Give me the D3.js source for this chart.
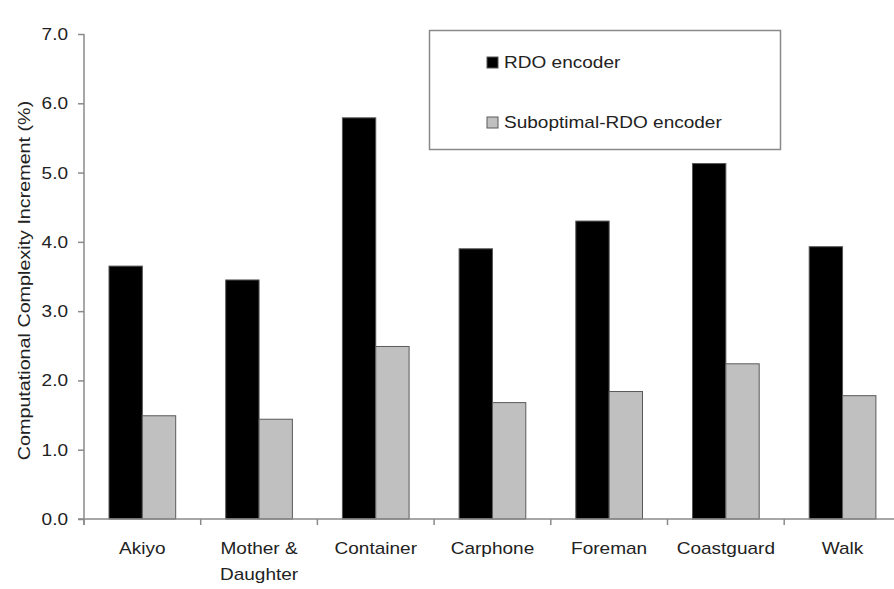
<!DOCTYPE html>
<html>
<head>
<meta charset="utf-8">
<script src="https://cdn.jsdelivr.net/npm/d3@7"></script>
<style>
  body { margin: 0; background: #fff; }
  svg { display: block; font-family: "Liberation Sans", Arial, sans-serif; }
  /* le texte de la figure d'origine est un peu étiré horizontalement */
  .wide { transform-box: fill-box; transform: scaleX(1.12); }
  .wide-end { transform-origin: right center; }
  .wide-mid { transform-origin: center center; }
  .wide-start { transform-origin: left center; }
  .title-wide { transform-box: fill-box; transform: scaleX(1.16); transform-origin: center center; }
</style>
</head>
<body>
<div id="chart"></div>
<script>
// --- Données ---
const categories = ["Akiyo", "Mother & Daughter", "Container", "Carphone", "Foreman", "Coastguard", "Walk"];
const categoryLines = [["Akiyo"], ["Mother &", "Daughter"], ["Container"], ["Carphone"], ["Foreman"], ["Coastguard"], ["Walk"]];
const seriesNames = ["RDO encoder", "Suboptimal-RDO encoder"];
const rdoValues = [3.65, 3.45, 5.79, 3.90, 4.30, 5.13, 3.93];
const subValues = [1.49, 1.44, 2.49, 1.68, 1.84, 2.24, 1.78];
const yTicks = [0, 1, 2, 3, 4, 5, 6, 7];

// --- Configuration ---
const W = 894, H = 589;
const x0 = 84, y0 = 519, yTop = 34;
const bandW = 116.7;

const colors = ["#000000", "#c0c0c0"];
const strokes = ["#555555", "#5a5a5a"];
const axisColor = "#8a8a8a";
const textColor = "#222";

const svg = d3.select("#chart").append("svg")
  .attr("width", W).attr("height", H);

const x = d3.scaleBand()
  .domain(categories)
  .range([x0, x0 + bandW * categories.length])
  .paddingInner(0).paddingOuter(0);

const xSub = d3.scaleBand()
  .domain(seriesNames)
  .range([0, bandW])
  .paddingInner(0)
  .paddingOuter(0.75);

const y = d3.scaleLinear().domain([0, 7]).range([y0, yTop]);

const data = categories.map((c, i) => ({ cat: c, vals: [rdoValues[i], subValues[i]] }));

// Barres
const groups = svg.selectAll(".grp")
  .data(data)
  .join("g")
  .attr("class", "grp")
  .attr("transform", d => `translate(${x(d.cat)},0)`);

groups.selectAll("rect")
  .data(d => d.vals.map((v, k) => ({ key: seriesNames[k], v, k })))
  .join("rect")
  .attr("x", d => xSub(d.key))
  .attr("y", d => y(d.v))
  .attr("width", xSub.bandwidth())
  .attr("height", d => y0 - y(d.v))
  .attr("fill", d => colors[d.k])
  .attr("stroke", d => strokes[d.k])
  .attr("stroke-width", 1);

// Axe Y
const yAxis = svg.append("g")
  .attr("transform", `translate(${x0},0)`)
  .call(d3.axisLeft(y).tickValues(yTicks).tickFormat(d3.format(".1f")).tickSize(6).tickPadding(10));
yAxis.select(".domain").attr("stroke", axisColor).attr("stroke-width", 1.5)
  .attr("d", `M0,${yTop}V${y0 + 6}`);
yAxis.selectAll(".tick line").attr("stroke", axisColor).attr("stroke-width", 1.5);
yAxis.selectAll(".tick text")
  .attr("class", "wide wide-end")
  .attr("fill", textColor)
  .style("font-size", "17px")
  .style("font-family", "'Liberation Sans', Arial, sans-serif");

// Axe X (ticks aux limites des catégories)
const xAxisG = svg.append("g").attr("transform", `translate(0,${y0})`);
xAxisG.append("line")
  .attr("x1", x0 - 6).attr("x2", W)
  .attr("stroke", axisColor).attr("stroke-width", 1.5);
xAxisG.selectAll(".xt")
  .data(categories)
  .join("line")
  .attr("class", "xt")
  .attr("x1", d => x(d)).attr("x2", d => x(d))
  .attr("y1", 0).attr("y2", 6)
  .attr("stroke", axisColor).attr("stroke-width", 1.5);

xAxisG.selectAll(".xl")
  .data(categories)
  .join("g")
  .attr("class", "xl")
  .each(function(d, i) {
    categoryLines[i].forEach((line, j) => {
      d3.select(this).append("text")
        .attr("class", "wide wide-mid")
        .attr("x", x(d) + x.bandwidth() / 2)
        .attr("y", 35 + j * 26)
        .attr("text-anchor", "middle")
        .attr("fill", textColor)
        .style("font-size", "17px")
        .text(line);
    });
  });

// Titre axe Y
svg.append("g")
  .attr("transform", `translate(30,${(y0 + yTop) / 2 + 4}) rotate(-90)`)
  .append("text")
  .attr("class", "title-wide")
  .attr("text-anchor", "middle")
  .attr("fill", textColor)
  .style("font-size", "17px")
  .text("Computational Complexity Increment (%)");

// Légende
const legend = svg.append("g");
legend.append("rect")
  .attr("x", 429.5).attr("y", 30.5)
  .attr("width", 351).attr("height", 119)
  .attr("fill", "#fff").attr("stroke", "#8a8a8a").attr("stroke-width", 1.5);

const li = legend.selectAll(".li")
  .data(seriesNames)
  .join("g")
  .attr("class", "li")
  .attr("transform", (d, i) => `translate(487,${57 + i * 60})`);
li.append("rect")
  .attr("width", 11).attr("height", 11)
  .attr("fill", (d, i) => colors[i])
  .attr("stroke", (d, i) => strokes[i]);
li.append("text")
  .attr("class", "wide wide-start")
  .attr("x", 17).attr("y", 11)
  .attr("fill", textColor)
  .style("font-size", "17px")
  .text(d => d);
</script>
</body>
</html>
